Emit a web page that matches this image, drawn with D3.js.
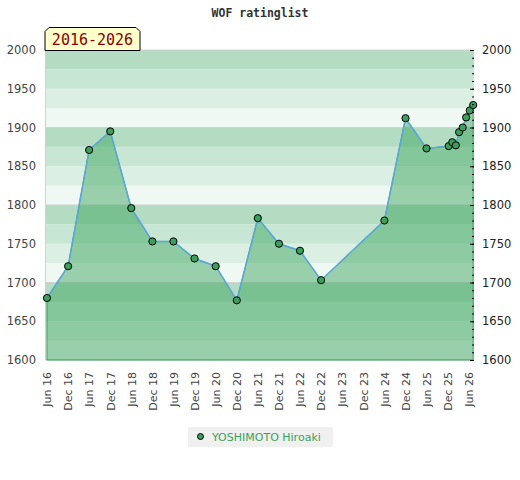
<!DOCTYPE html>
<html>
<head>
<meta charset="utf-8">
<script src="https://cdnjs.cloudflare.com/ajax/libs/d3/7.8.5/d3.min.js"></script>
<style>
  body { margin: 0; background: #fff; }
  text { font-family: "DejaVu Sans", sans-serif; }
</style>
</head>
<body>
<div id="chart"></div>
<script>
//= ================================
var listDates = ["2016-06-01", "2016-12-01", "2017-06-01", "2017-12-01", "2018-06-01",
  "2018-12-01", "2019-06-01", "2019-12-01", "2020-06-01", "2020-12-01", "2021-06-01",
  "2021-12-01", "2022-06-01", "2022-12-01", "2024-06-01", "2024-12-01", "2025-06-01",
  "2025-12-10", "2026-01-10", "2026-02-10", "2026-03-10", "2026-04-10", "2026-05-10",
  "2026-06-10", "2026-07-10"];
var ratings = [1680, 1721, 1871, 1895, 1796, 1753, 1753, 1731, 1721, 1677, 1783,
  1750, 1741, 1703, 1780, 1912, 1873, 1876, 1881, 1877, 1894, 1900, 1913, 1922, 1929];
var playerName = "YOSHIMOTO Hiroaki";
var periodLabel = "2016-2026";
var yTicks = [1600, 1650, 1700, 1750, 1800, 1850, 1900, 1950, 2000];

// Set up chart
//= ================================
var svgWidth = 520;
var svgHeight = 480;

var margin = { top: 50, right: 46, bottom: 120, left: 45 };
var width = svgWidth - margin.left - margin.right;
var height = svgHeight - margin.top - margin.bottom;

var svg = d3.select("#chart")
  .append("svg")
  .attr("width", svgWidth)
  .attr("height", svgHeight);

var parseDate = d3.timeParse("%Y-%m-%d");
var data = listDates.map(function(d, i) {
  return { date: parseDate(d), rating: ratings[i] };
});

var xScale = d3.scaleTime()
  .domain([parseDate("2016-05-15"), parseDate("2026-07-17")])
  .range([0, width]);

var yScale = d3.scaleLinear()
  .domain([1600, 2000])
  .range([height, 0]);

var chartGroup = svg.append("g")
  .attr("transform", `translate(${margin.left}, ${margin.top})`);

// background bands, four shades per 100 points
var bandColors = ["#f0f8f3", "#dcefe3", "#c7e6d3", "#b3dcc3"];
var bands = d3.range(1600, 2000, 25);
chartGroup.selectAll(".band")
  .data(bands)
  .enter()
  .append("rect")
  .attr("x", 0)
  .attr("width", width)
  .attr("y", d => yScale(d + 25))
  .attr("height", d => yScale(d) - yScale(d + 25))
  .attr("fill", d => bandColors[((d - 1600) % 100) / 25]);

chartGroup.selectAll(".grid")
  .data(d3.range(1600, 2001, 100))
  .enter()
  .append("line")
  .attr("x1", 0)
  .attr("x2", width)
  .attr("y1", d => yScale(d))
  .attr("y2", d => yScale(d))
  .attr("stroke", "#d2d2d2");

chartGroup.append("line")
  .attr("x1", 0.5).attr("x2", 0.5)
  .attr("y1", 0).attr("y2", height)
  .attr("stroke", "#d2d2d2");

// area + line
var area = d3.area()
  .x(d => xScale(d.date))
  .y0(yScale(1600))
  .y1(d => yScale(d.rating));

var line = d3.line()
  .x(d => xScale(d.date))
  .y(d => yScale(d.rating));

chartGroup.append("path")
  .datum(data)
  .attr("d", area)
  .attr("fill", "rgba(55,164,89,0.47)")
  .attr("stroke", "#3a9f5c")
  .attr("stroke-width", 1);

chartGroup.append("path")
  .datum(data)
  .attr("d", line)
  .attr("fill", "none")
  .attr("stroke", "#5ba6dc")
  .attr("stroke-width", 1.5);

chartGroup.selectAll("circle")
  .data(data)
  .enter()
  .append("circle")
  .attr("cx", d => xScale(d.date))
  .attr("cy", d => yScale(d.rating))
  .attr("r", 3.6)
  .attr("fill", "#3a9f5c")
  .attr("stroke", "#000")
  .attr("stroke-width", 1);

// axes
var xTickValues = d3.timeMonth.range(parseDate("2016-06-01"), parseDate("2026-06-02"))
  .filter(d => d.getMonth() === 5 || d.getMonth() === 11);

var bottomAxis = d3.axisBottom(xScale)
  .tickValues(xTickValues)
  .tickFormat(d3.timeFormat("%b %y"))
  .tickSize(0);

var xAxisGroup = chartGroup.append("g")
  .attr("transform", `translate(0, ${height})`)
  .call(bottomAxis);
xAxisGroup.select(".domain").remove();
xAxisGroup.selectAll("text")
  .attr("transform", "rotate(-90)")
  .attr("x", -12)
  .attr("y", 0)
  .attr("dy", "0.35em")
  .style("text-anchor", "end")
  .style("font-family", "DejaVu Sans")
  .style("font-size", "11px")
  .attr("fill", "#444");

var leftAxis = d3.axisLeft(yScale)
  .tickValues(yTicks)
  .tickFormat(d3.format("d"))
  .tickSize(0)
  .tickPadding(9);

var yLeft = chartGroup.append("g").call(leftAxis);
yLeft.select(".domain").remove();
yLeft.selectAll("text")
  .style("font-family", "DejaVu Sans")
  .style("font-size", "11.5px")
  .attr("fill", "#444");

var rightMinor = d3.axisLeft(yScale)
  .tickValues(d3.range(1600, 2001, 10))
  .tickSize(2)
  .tickFormat("");

var yRightMinor = chartGroup.append("g")
  .attr("transform", `translate(${width}, 0)`)
  .call(rightMinor);
yRightMinor.select(".domain").remove();
yRightMinor.selectAll("line").attr("stroke", "#000");

var rightAxis = d3.axisRight(yScale)
  .tickValues(yTicks)
  .tickFormat(d3.format("d"))
  .tickSize(0)
  .tickPadding(8);

var yRight = chartGroup.append("g")
  .attr("transform", `translate(${width}, 0)`)
  .call(rightAxis);
yRight.select(".domain").remove();
yRight.selectAll("text")
  .style("font-family", "DejaVu Sans")
  .style("font-size", "11.5px")
  .attr("fill", "#222");
yRight.selectAll(".tick")
  .append("line")
  .attr("x1", -4)
  .attr("x2", 0)
  .attr("stroke", "#000");

// title
svg.append("text")
  .attr("x", svgWidth / 2)
  .attr("y", 17)
  .style("text-anchor", "middle")
  .style("font-family", "DejaVu Sans Mono")
  .style("font-weight", "bold")
  .style("font-size", "11.5px")
  .attr("fill", "#333")
  .text("WOF ratinglist");

// period label box with cut corners
var bx = 45, by = 27.5, bw = 95, bh = 23, c = 4;
svg.append("path")
  .attr("d", `M${bx},${by + bh} L${bx},${by + c} L${bx + c},${by} L${bx + bw - c},${by} L${bx + bw},${by + c} L${bx + bw},${by + bh} Z`)
  .attr("fill", "#ffffcc")
  .attr("stroke", "#000")
  .attr("stroke-width", 1);

svg.append("text")
  .attr("x", bx + bw / 2)
  .attr("y", 44.5)
  .style("text-anchor", "middle")
  .style("font-family", "DejaVu Sans Mono")
  .style("font-size", "15px")
  .attr("fill", "#8b0000")
  .text(periodLabel);

// legend
var legend = svg.append("g");
legend.append("rect")
  .attr("x", 188)
  .attr("y", 427)
  .attr("width", 145)
  .attr("height", 20)
  .attr("fill", "#f0f0f0");
legend.append("circle")
  .attr("cx", 200.5)
  .attr("cy", 436.5)
  .attr("r", 3)
  .attr("fill", "#3a9f5c")
  .attr("stroke", "#000")
  .attr("stroke-width", 1);
legend.append("text")
  .attr("x", 212)
  .attr("y", 440.5)
  .style("font-family", "DejaVu Sans")
  .style("font-size", "11px")
  .attr("fill", "#3aa35a")
  .text(playerName);
</script>
</body>
</html>
